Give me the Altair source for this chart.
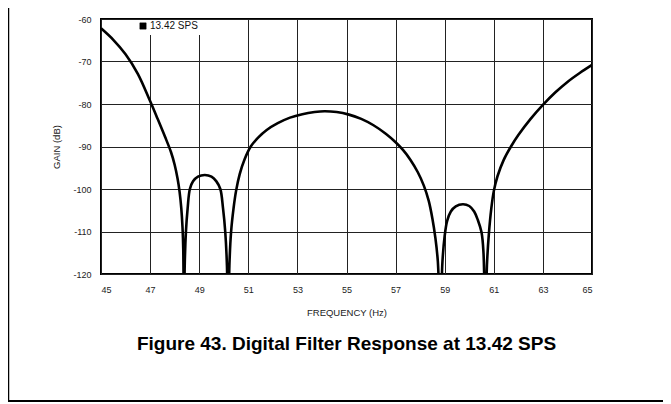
import altair as alt
import pandas as pd

# Frequency (Hz) and gain (dB)
freq = [45.0, 45.5, 46.0, 46.5, 47.0, 47.3, 47.6, 47.85, 48.0, 48.12, 48.2, 48.27, 48.32, 48.35, 48.38,
        48.41, 48.46, 48.53, 48.62, 48.75, 48.95, 49.23, 49.5, 49.7, 49.86, 49.97, 50.06, 50.13, 50.18,
        50.23, 50.3, 50.4, 50.5, 50.65, 50.85, 51.1, 51.4, 51.75, 52.2, 52.7, 53.2, 53.7, 54.1, 54.6,
        55.1, 55.6, 56.1, 56.6, 57.0, 57.3, 57.6, 57.9, 58.15, 58.35, 58.5, 58.62, 58.72, 58.84,
        58.9, 59.0, 59.1, 59.25, 59.45, 59.74, 60.0, 60.2, 60.35, 60.5, 60.58, 60.66,
        60.72, 60.8, 60.9, 61.0, 61.15, 61.4, 61.7, 62.0, 62.5, 63.0, 63.5, 64.0, 64.5, 65.0]
gain = [-62.2, -64.9, -68.3, -72.9, -79.3, -83.4, -87.6, -91.3, -94.3, -97.6, -100.6, -104.5, -109.0, -114.0, -135.0,
        -118.0, -110.0, -104.5, -100.0, -98.2, -97.1, -96.7, -97.1, -98.2, -100.0, -104.5, -110.0, -118.0, -135.0,
        -118.0, -110.0, -104.5, -100.5, -96.5, -93.0, -90.0, -87.9, -86.1, -84.5, -83.2, -82.4, -81.9, -81.7, -81.9,
        -82.5, -83.5, -85.0, -87.0, -89.0, -90.8, -93.1, -96.0, -99.2, -102.8, -107.0, -111.5, -117.0, -135.0,
        -118.0, -111.0, -107.5, -105.3, -104.1, -103.6, -104.0, -105.3, -107.3, -110.2, -115.0, -135.0,
        -118.0, -110.5, -104.5, -100.5, -97.0, -93.2, -90.0, -87.3, -83.5, -80.2, -77.3, -74.8, -72.7, -70.8]
series_name = "13.42 SPS"
x_ticks = [45, 47, 49, 51, 53, 55, 57, 59, 61, 63, 65]
y_ticks = [-120, -110, -100, -90, -80, -70, -60]
figure_title = "Figure 43. Digital Filter Response at 13.42 SPS"

df = pd.DataFrame({"freq": freq, "gain": gain, "series": [series_name] * len(freq)})

FONT = "Liberation Sans"

x_enc = alt.X("freq:Q",
              scale=alt.Scale(domain=[45, 65], nice=False, zero=False),
              axis=alt.Axis(values=x_ticks, title="FREQUENCY (Hz)", grid=True, ticks=False,
                            domain=False, labelPadding=11, titlePadding=13,
                            labelFontSize=9, titleFontSize=9.5, titleFontWeight="normal",
                            labelColor="#222", titleColor="#222", labelFont=FONT, titleFont=FONT))
y_enc = alt.Y("gain:Q",
              scale=alt.Scale(domain=[-120, -60], nice=False, zero=False),
              axis=alt.Axis(values=y_ticks, title="GAIN (dB)", grid=True, ticks=False,
                            domain=False, labelPadding=10, titlePadding=11,
                            labelExpr="toString(datum.value)",
                            labelFontSize=9, titleFontSize=9.5, titleFontWeight="normal",
                            labelColor="#222", titleColor="#222", labelFont=FONT, titleFont=FONT))

base = alt.Chart(df)
one = base.transform_filter("datum.freq == 45")

cover = one.mark_rect(color="white").encode(
    x=alt.value(36), x2=alt.value(106), y=alt.value(1), y2=alt.value(16)
)

curve = base.mark_line(strokeWidth=2.6, interpolate="catmull-rom", clip=True).encode(
    x=x_enc, y=y_enc,
    color=alt.Color("series:N", scale=alt.Scale(domain=[series_name], range=["black"]),
                    legend=alt.Legend(title=None, orient="none", legendX=37, legendY=2,
                                      symbolType="square", symbolSize=40,
                                      symbolFillColor="black", symbolStrokeColor="black",
                                      symbolStrokeWidth=0.5, labelFontSize=10, labelFont=FONT,
                                      labelColor="#111", symbolOffset=0, labelOffset=2,
                                      padding=0))
)

title_text = one.mark_text(font=FONT, fontSize=19, fontWeight="bold", color="black",
                           align="center", baseline="middle").encode(
    x=alt.value(245.5), y=alt.value(325), text=alt.value(figure_title)
)

left_line = one.mark_rule(color="black", strokeWidth=1.5).encode(
    x=alt.value(-92.5), y=alt.value(-12), y2=alt.value(382)
)
bottom_line = one.mark_rule(color="black", strokeWidth=2).encode(
    x=alt.value(-93), x2=alt.value(562), y=alt.value(382)
)

chart = alt.layer(cover, curve, title_text, left_line, bottom_line).properties(
    width=491, height=255,
    autosize=alt.AutoSizeParams(type="none"),
    padding={"left": 93, "top": 11, "right": 71, "bottom": 130},
).configure_view(
    stroke="black", strokeWidth=2
).configure_axis(
    gridColor="#222", gridWidth=1, gridOpacity=1
)

chart.save("out.html", embed_options={"renderer": "svg", "actions": False})
